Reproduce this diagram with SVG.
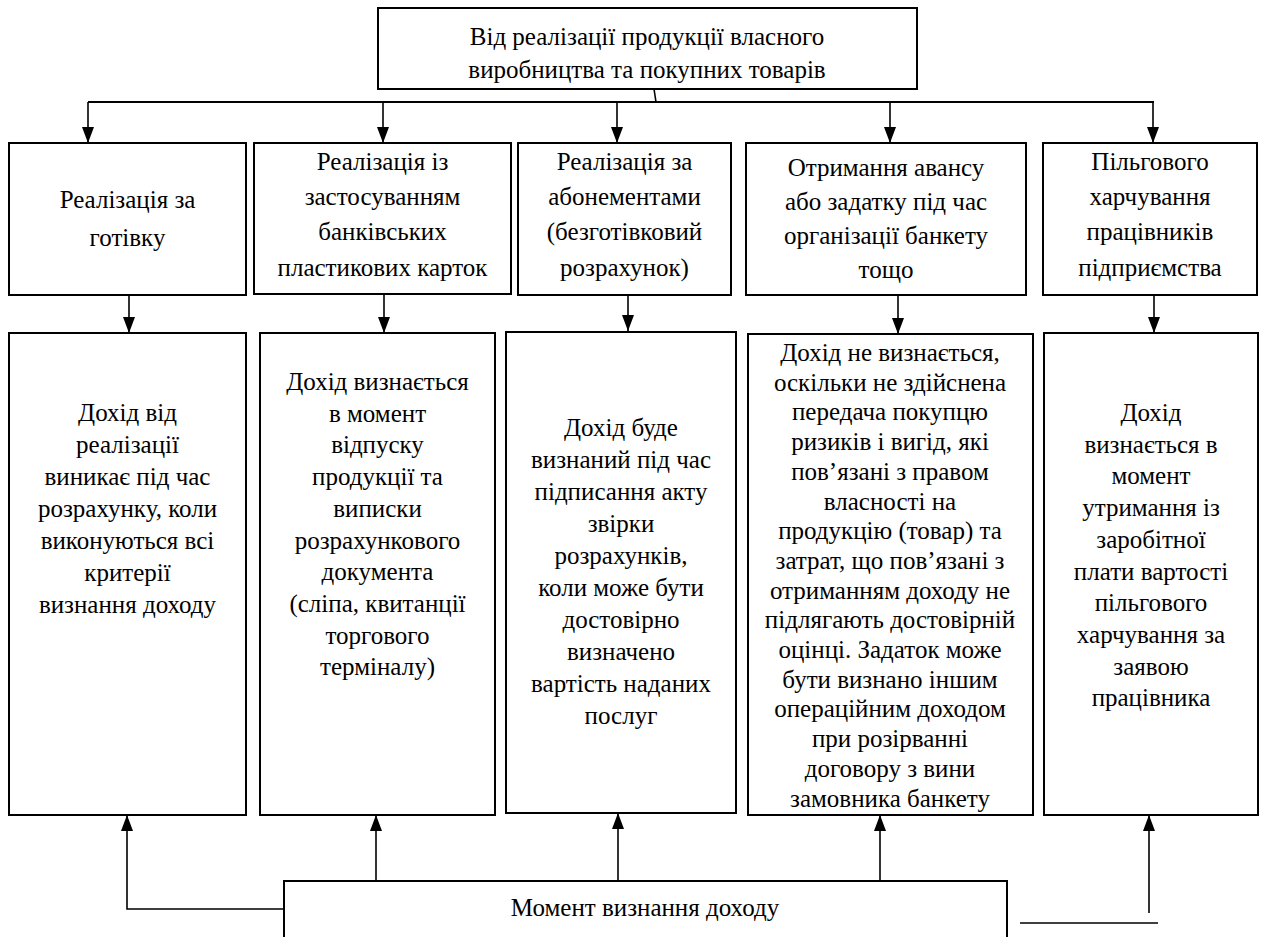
<svg xmlns="http://www.w3.org/2000/svg" width="1263" height="937" viewBox="0 0 1263 937">
  <style>
    .box { fill: #ffffff; stroke: #000000; stroke-width: 2; }
    .lbl { font-size: 25px; fill: #000000; text-anchor: middle; }
    .wire { fill: none; stroke: #000000; stroke-width: 1.6; }
    .bus { fill: none; stroke: #000000; stroke-width: 2.2; }
  </style>
  <defs>
    <marker id="arr" viewBox="0 0 16 12" refX="16" refY="6" markerWidth="16" markerHeight="12" markerUnits="userSpaceOnUse" orient="auto">
      <path d="M0,0 L16,6 L0,12 z" fill="#000000"/>
    </marker>
  </defs>
  <rect width="1263" height="937" fill="#ffffff"/>

  <!-- connectors -->
  <g id="connectors">
    <path class="wire" d="M654,89 L656,102"/>
    <path class="bus" d="M88,102 L1154,102"/>
    <path class="wire" d="M88,102 V143" marker-end="url(#arr)"/>
    <path class="wire" d="M383,102 V143" marker-end="url(#arr)"/>
    <path class="wire" d="M617,102 V143" marker-end="url(#arr)"/>
    <path class="wire" d="M890,102 V143" marker-end="url(#arr)"/>
    <path class="wire" d="M1153,102 V143" marker-end="url(#arr)"/>

    <path class="wire" d="M129,295 V333" marker-end="url(#arr)"/>
    <path class="wire" d="M384,294 V333" marker-end="url(#arr)"/>
    <path class="wire" d="M628,295 V331" marker-end="url(#arr)"/>
    <path class="wire" d="M898,295 V334" marker-end="url(#arr)"/>
    <path class="wire" d="M1154,295 V333" marker-end="url(#arr)"/>

    <path class="wire" d="M284,909 H127 V815" marker-end="url(#arr)"/>
    <path class="wire" d="M376,881 V815" marker-end="url(#arr)"/>
    <path class="wire" d="M618,881 V813" marker-end="url(#arr)"/>
    <path class="wire" d="M880,881 V815" marker-end="url(#arr)"/>
    <path class="wire" d="M1149,913 V815" marker-end="url(#arr)"/>
    <path class="wire" d="M1020,923 H1158"/>
  </g>

  <g font-family="Liberation Serif, Tinos, Times New Roman, DejaVu Serif, serif">
  <!-- top node -->
  <g id="n-top">
    <rect class="box" x="378" y="8" width="539" height="81"/>
    <text class="lbl" x="647" y="45">Від реалізації продукції власного</text>
    <text class="lbl" x="647" y="78">виробництва та покупних товарів</text>
  </g>

  <!-- second row -->
  <g id="n-cash">
    <rect class="box" x="9" y="143" width="237" height="152"/>
    <text class="lbl" x="127.5" y="208">Реалізація за</text>
    <text class="lbl" x="127.5" y="246">готівку</text>
  </g>
  <g id="n-cards">
    <rect class="box" x="254" y="143" width="257" height="151"/>
    <text class="lbl" x="382.5" y="170">Реалізація із</text>
    <text class="lbl" x="382.5" y="205">застосуванням</text>
    <text class="lbl" x="382.5" y="240">банківських</text>
    <text class="lbl" x="382.5" y="276">пластикових карток</text>
  </g>
  <g id="n-subscr">
    <rect class="box" x="518" y="143" width="213" height="152"/>
    <text class="lbl" x="624.5" y="170">Реалізація за</text>
    <text class="lbl" x="624.5" y="205">абонементами</text>
    <text class="lbl" x="624.5" y="240">(безготівковий</text>
    <text class="lbl" x="624.5" y="276">розрахунок)</text>
  </g>
  <g id="n-advance">
    <rect class="box" x="746" y="143" width="280" height="152"/>
    <text class="lbl" x="886" y="176">Отримання авансу</text>
    <text class="lbl" x="886" y="210">або задатку під час</text>
    <text class="lbl" x="886" y="244">організації банкету</text>
    <text class="lbl" x="886" y="278">тощо</text>
  </g>
  <g id="n-meals">
    <rect class="box" x="1043" y="143" width="214" height="152"/>
    <text class="lbl" x="1150" y="170">Пільгового</text>
    <text class="lbl" x="1150" y="205">харчування</text>
    <text class="lbl" x="1150" y="240">працівників</text>
    <text class="lbl" x="1150" y="276">підприємства</text>
  </g>

  <!-- third row -->
  <g id="r-cash">
    <rect class="box" x="9" y="333" width="237" height="482"/>
    <text class="lbl" x="127.5" y="421">Дохід від</text>
    <text class="lbl" x="127.5" y="453">реалізації</text>
    <text class="lbl" x="127.5" y="485">виникає під час</text>
    <text class="lbl" x="127.5" y="517">розрахунку, коли</text>
    <text class="lbl" x="127.5" y="549">виконуються всі</text>
    <text class="lbl" x="127.5" y="581">критерії</text>
    <text class="lbl" x="127.5" y="613">визнання доходу</text>
  </g>
  <g id="r-cards">
    <rect class="box" x="260" y="333" width="235" height="482"/>
    <text class="lbl" x="377.5" y="390">Дохід визнається</text>
    <text class="lbl" x="377.5" y="421.7">в момент</text>
    <text class="lbl" x="377.5" y="453.4">відпуску</text>
    <text class="lbl" x="377.5" y="485.1">продукції та</text>
    <text class="lbl" x="377.5" y="516.8">виписки</text>
    <text class="lbl" x="377.5" y="548.5">розрахункового</text>
    <text class="lbl" x="377.5" y="580.2">документа</text>
    <text class="lbl" x="377.5" y="611.9">(сліпа, квитанції</text>
    <text class="lbl" x="377.5" y="643.6">торгового</text>
    <text class="lbl" x="377.5" y="675.3">терміналу)</text>
  </g>
  <g id="r-subscr">
    <rect class="box" x="506" y="332" width="230" height="481"/>
    <text class="lbl" x="621" y="436">Дохід буде</text>
    <text class="lbl" x="621" y="468">визнаний під час</text>
    <text class="lbl" x="621" y="500">підписання акту</text>
    <text class="lbl" x="621" y="532">звірки</text>
    <text class="lbl" x="621" y="564">розрахунків,</text>
    <text class="lbl" x="621" y="596">коли може бути</text>
    <text class="lbl" x="621" y="628">достовірно</text>
    <text class="lbl" x="621" y="660">визначено</text>
    <text class="lbl" x="621" y="692">вартість наданих</text>
    <text class="lbl" x="621" y="724">послуг</text>
  </g>
  <g id="r-advance">
    <rect class="box" x="748" y="334" width="285" height="481"/>
    <text class="lbl" x="890" y="361">Дохід не визнається,</text>
    <text class="lbl" x="890" y="390.7">оскільки не здійснена</text>
    <text class="lbl" x="890" y="420.4">передача покупцю</text>
    <text class="lbl" x="890" y="450.1">ризиків і вигід, які</text>
    <text class="lbl" x="890" y="479.8">пов’язані з правом</text>
    <text class="lbl" x="890" y="509.5">власності на</text>
    <text class="lbl" x="890" y="539.2">продукцію (товар) та</text>
    <text class="lbl" x="890" y="568.9">затрат, що пов’язані з</text>
    <text class="lbl" x="890" y="598.6">отриманням доходу не</text>
    <text class="lbl" x="890" y="628.3">підлягають достовірній</text>
    <text class="lbl" x="890" y="658">оцінці. Задаток може</text>
    <text class="lbl" x="890" y="687.7">бути визнано іншим</text>
    <text class="lbl" x="890" y="717.4">операційним доходом</text>
    <text class="lbl" x="890" y="747.1">при розірванні</text>
    <text class="lbl" x="890" y="776.8">договору з вини</text>
    <text class="lbl" x="890" y="806.5">замовника банкету</text>
  </g>
  <g id="r-meals">
    <rect class="box" x="1044" y="333" width="214" height="482"/>
    <text class="lbl" x="1151" y="421">Дохід</text>
    <text class="lbl" x="1151" y="452.7">визнається в</text>
    <text class="lbl" x="1151" y="484.4">момент</text>
    <text class="lbl" x="1151" y="516.1">утримання із</text>
    <text class="lbl" x="1151" y="547.8">заробітної</text>
    <text class="lbl" x="1151" y="579.5">плати вартості</text>
    <text class="lbl" x="1151" y="611.2">пільгового</text>
    <text class="lbl" x="1151" y="642.9">харчування за</text>
    <text class="lbl" x="1151" y="674.6">заявою</text>
    <text class="lbl" x="1151" y="706.3">працівника</text>
  </g>

  <!-- bottom node -->
  <g id="n-moment">
    <rect class="box" x="284" y="881" width="723" height="70"/>
    <text class="lbl" x="645" y="916">Момент визнання доходу</text>
  </g>
  </g>
</svg>
